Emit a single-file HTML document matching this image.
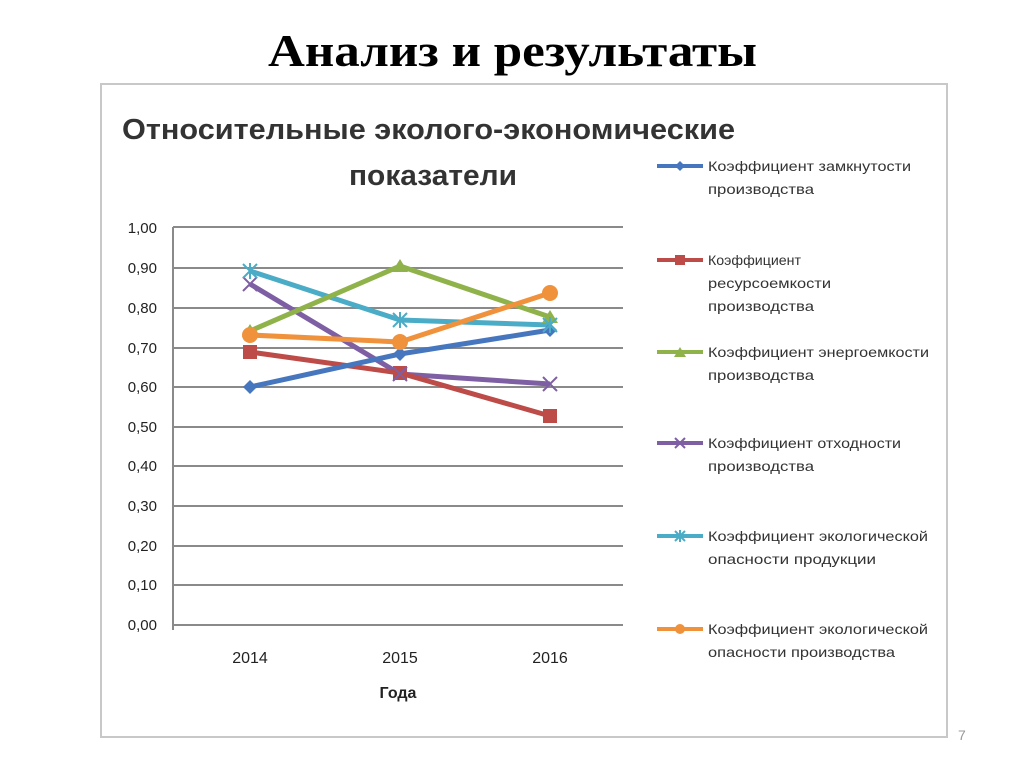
<!DOCTYPE html>
<html><head><meta charset="utf-8"><style>
body{margin:0;width:1024px;height:767px;background:#fff;overflow:hidden;font-family:"Liberation Sans",sans-serif}
</style></head><body>
<svg width="1024" height="767" xmlns="http://www.w3.org/2000/svg" font-family="Liberation Sans, DejaVu Sans, sans-serif">
<text x="268" y="66" textLength="489" lengthAdjust="spacingAndGlyphs" font-family="Liberation Serif, serif" font-weight="bold" font-size="46">Анализ и результаты</text>
<rect x="101" y="84" width="846" height="653" fill="#fff" stroke="#c8c8c8" stroke-width="2"/>
<text x="122" y="139" textLength="613" lengthAdjust="spacingAndGlyphs" font-size="29" font-weight="bold" fill="#333">Относительные эколого-экономические</text>
<text x="349" y="185" textLength="168" lengthAdjust="spacingAndGlyphs" font-size="29" font-weight="bold" fill="#333">показатели</text>
<g stroke="#8a8a8a" stroke-width="2">
<line x1="173" y1="227" x2="623" y2="227"/><line x1="173" y1="268" x2="623" y2="268"/><line x1="173" y1="308" x2="623" y2="308"/><line x1="173" y1="348" x2="623" y2="348"/><line x1="173" y1="387" x2="623" y2="387"/><line x1="173" y1="427" x2="623" y2="427"/><line x1="173" y1="466" x2="623" y2="466"/><line x1="173" y1="506" x2="623" y2="506"/><line x1="173" y1="546" x2="623" y2="546"/><line x1="173" y1="585" x2="623" y2="585"/><line x1="173" y1="625" x2="623" y2="625"/>
<line x1="173" y1="227" x2="173" y2="630"/>
</g>
<g font-size="15" fill="#222" text-anchor="end">
<text x="157" y="233">1,00</text><text x="157" y="273">0,90</text><text x="157" y="313">0,80</text><text x="157" y="353">0,70</text><text x="157" y="392">0,60</text><text x="157" y="432">0,50</text><text x="157" y="471">0,40</text><text x="157" y="511">0,30</text><text x="157" y="551">0,20</text><text x="157" y="590">0,10</text><text x="157" y="630">0,00</text>
</g>
<g font-size="16" fill="#222" text-anchor="middle">
<text x="250" y="663">2014</text><text x="400" y="663">2015</text><text x="550" y="663">2016</text>
<text x="398" y="698" font-weight="bold">Года</text>
</g>
<g fill="none" stroke-width="5" stroke-linejoin="round">
<polyline points="250,271 400,320 550,325" stroke="#4aacc6"/>
<polyline points="250,284 400,374 550,384" stroke="#7f5fa4"/>
<polyline points="250,331 400,266 550,317" stroke="#8fb34a"/>
<polyline points="250,352 400,373 550,416" stroke="#bd4b48"/>
<polyline points="250,387 400,354 550,330" stroke="#4677be"/>
<polyline points="250,335 400,342 550,293" stroke="#f0913c"/>
</g>
<g fill="#bd4b48"><rect x="243" y="345" width="14" height="14"/><rect x="393" y="366" width="14" height="14"/><rect x="543" y="409" width="14" height="14"/></g>
<g fill="#8fb34a"><path d="M250,324 l8,13 h-16z"/><path d="M400,259 l8,13 h-16z"/><path d="M550,310 l8,13 h-16z"/></g>
<g fill="#4677be"><path d="M250,380 l7,7 -7,7 -7,-7z"/><path d="M400,347 l7,7 -7,7 -7,-7z"/><path d="M550,323 l7,7 -7,7 -7,-7z"/></g>
<g fill="#f0913c"><circle cx="250" cy="335" r="8"/><circle cx="400" cy="342" r="8"/><circle cx="550" cy="293" r="8"/></g>
<g stroke="#7f5fa4" stroke-width="2"><path d="M243,277 l14,14 M257,277 l-14,14 M393,367 l14,14 M407,367 l-14,14 M543,377 l14,14 M557,377 l-14,14"/></g>
<g stroke="#4aacc6" stroke-width="2"><path d="M243,264 l14,14 M257,264 l-14,14 M250,263 v16 M393,313 l14,14 M407,313 l-14,14 M400,312 v16 M543,318 l14,14 M557,318 l-14,14 M550,317 v16"/></g>
<g stroke-width="4">
<line x1="657" y1="166" x2="703" y2="166" stroke="#4677be"/>
<line x1="657" y1="260" x2="703" y2="260" stroke="#bd4b48"/>
<line x1="657" y1="352" x2="703" y2="352" stroke="#8fb34a"/>
<line x1="657" y1="443" x2="703" y2="443" stroke="#7f5fa4"/>
<line x1="657" y1="536" x2="703" y2="536" stroke="#4aacc6"/>
<line x1="657" y1="629" x2="703" y2="629" stroke="#f0913c"/>
</g>
<path d="M680,161 l5,5 -5,5 -5,-5z" fill="#4677be"/>
<rect x="675" y="255" width="10" height="10" fill="#bd4b48"/>
<path d="M680,347 l6,10 h-12z" fill="#8fb34a"/>
<path d="M675,438 l10,10 M685,438 l-10,10" stroke="#7f5fa4" stroke-width="2"/>
<path d="M675,531 l10,10 M685,531 l-10,10 M680,530 v12" stroke="#4aacc6" stroke-width="2"/>
<circle cx="680" cy="629" r="5" fill="#f0913c"/>
<g font-size="14" fill="#333" lengthAdjust="spacingAndGlyphs">
<text x="708" y="171" textLength="203" lengthAdjust="spacingAndGlyphs">Коэффициент замкнутости</text><text x="708" y="194" textLength="106" lengthAdjust="spacingAndGlyphs">производства</text>
<text x="708" y="265" textLength="93" lengthAdjust="spacingAndGlyphs">Коэффициент</text><text x="708" y="288" textLength="123" lengthAdjust="spacingAndGlyphs">ресурсоемкости</text><text x="708" y="311" textLength="106" lengthAdjust="spacingAndGlyphs">производства</text>
<text x="708" y="357" textLength="221" lengthAdjust="spacingAndGlyphs">Коэффициент энергоемкости</text><text x="708" y="380" textLength="106" lengthAdjust="spacingAndGlyphs">производства</text>
<text x="708" y="448" textLength="193" lengthAdjust="spacingAndGlyphs">Коэффициент отходности</text><text x="708" y="471" textLength="106" lengthAdjust="spacingAndGlyphs">производства</text>
<text x="708" y="541" textLength="220" lengthAdjust="spacingAndGlyphs">Коэффициент экологической</text><text x="708" y="564" textLength="168" lengthAdjust="spacingAndGlyphs">опасности продукции</text>
<text x="708" y="634" textLength="220" lengthAdjust="spacingAndGlyphs">Коэффициент экологической</text><text x="708" y="657" textLength="187" lengthAdjust="spacingAndGlyphs">опасности производства</text>
</g>
<text x="958" y="740" font-size="14" fill="#999">7</text>
</svg>
</body></html>
